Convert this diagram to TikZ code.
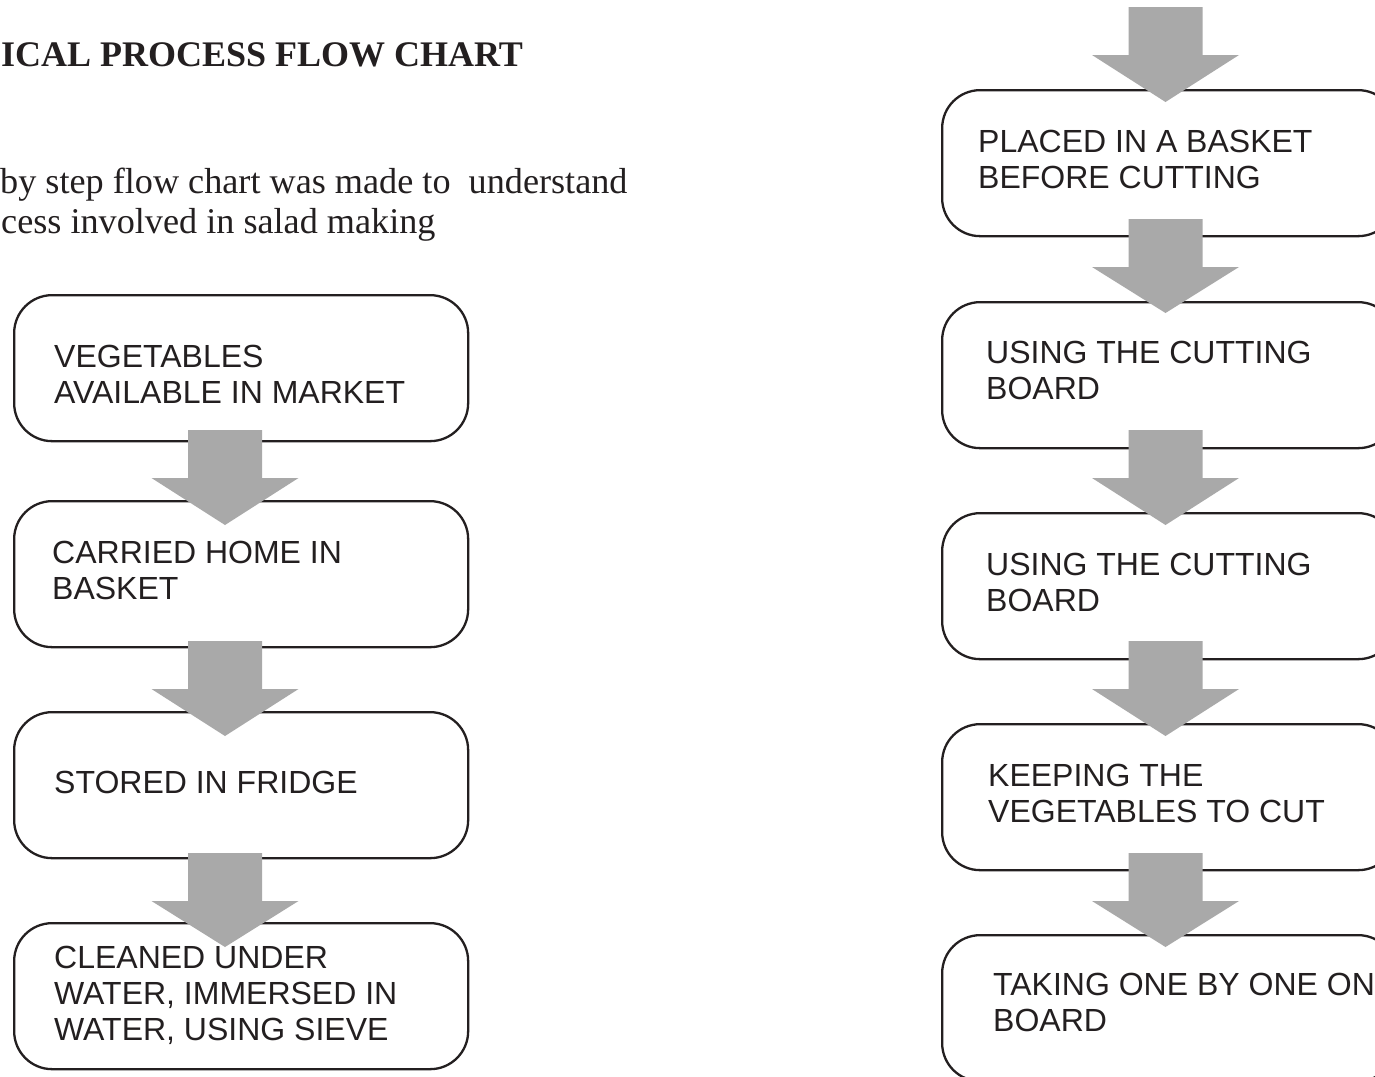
\documentclass[tikz,border=0pt]{standalone}
\usepackage{fontspec}
\setmainfont{Liberation Serif}
\setsansfont{Liberation Sans}
\usetikzlibrary{calc}
\definecolor{arrowgray}{HTML}{A9A9A9}
\definecolor{inkblack}{HTML}{231F20}
\tikzset{
  stepbox/.style={draw=inkblack, line width=2.3pt, rounded corners=38pt, minimum width=454pt, minimum height=146pt, anchor=north west, inner sep=0pt},
  boxtext/.style={anchor=north west, inner sep=0pt, align=left, text=inkblack, font=\sffamily\fontsize{32}{36}\selectfont},
  arrowfill/.style={fill=arrowgray, draw=none}
}
\newcommand\blockarrow[2]{%
  \fill[arrowfill] ($(#1)+(-37,0)$) -- ($(#1)+(37,0)$) -- ($(#1)+(37,48)$) -- ($(#1)+(73.5,48)$) -- (#2) -- ($(#1)+(-73.5,48)$) -- ($(#1)+(-37,48)$) -- cycle;}
\begin{document}
\begin{tikzpicture}[x=1pt,y=-1pt]
\useasboundingbox (0,0) rectangle (1375,1076);
\clip (0,0) rectangle (1375,1076);
\fill[white] (0,0) rectangle (1375,1076);
% title and intro
\node[anchor=base west, inner sep=0pt, text=inkblack, font=\bfseries\fontsize{36}{40}\selectfont] (title) at (1,66) {ICAL PROCESS FLOW CHART};
\node[anchor=base west, inner sep=0pt, text=inkblack, font=\fontsize{36.2}{40}\selectfont] (intro1) at (0,193) {by step flow chart was made to\ \ understand};
\node[anchor=base west, inner sep=0pt, text=inkblack, font=\fontsize{36.2}{40}\selectfont] (intro2) at (1,233) {cess involved in salad making};
% left column boxes
\node[stepbox] (L1) at (13,294) {};
\node[stepbox] (L2) at (13,500) {};
\node[stepbox] (L3) at (13,711) {};
\node[stepbox] (L4) at (13,922) {};
% right column boxes
\node[stepbox] (R1) at (941,89) {};
\node[stepbox] (R2) at (941,301) {};
\node[stepbox] (R3) at (941,512) {};
\node[stepbox] (R4) at (941,723) {};
\node[stepbox] (R5) at (941,934) {};
% texts
\node[boxtext] (tL1) at (54,345) {VEGETABLES\\AVAILABLE IN MARKET};
\node[boxtext] (tL2) at (52,541) {CARRIED HOME IN\\BASKET};
\node[boxtext] (tL3) at (54,771) {STORED IN FRIDGE};
\node[boxtext] (tL4) at (54,946) {CLEANED UNDER\\WATER, IMMERSED IN\\WATER, USING SIEVE};
\node[boxtext] (tR1) at (978,130) {PLACED IN A BASKET\\BEFORE CUTTING};
\node[boxtext] (tR2) at (986,341) {USING THE CUTTING\\BOARD};
\node[boxtext] (tR3) at (986,553) {USING THE CUTTING\\BOARD};
\node[boxtext] (tR4) at (988,764) {KEEPING THE\\VEGETABLES TO CUT};
\node[boxtext] (tR5) at (993,973) {TAKING ONE BY ONE ON\\BOARD};
% arrow anchor coordinates
\coordinate (sL1) at (225,430); \coordinate (eL1) at (225,525);
\coordinate (sL2) at (225,641); \coordinate (eL2) at (225,736);
\coordinate (sL3) at (225,853); \coordinate (eL3) at (225,947);
\coordinate (sR0) at (1165.5,7);   \coordinate (eR0) at (1165.5,102);
\coordinate (sR1) at (1165.5,219); \coordinate (eR1) at (1165.5,313);
\coordinate (sR2) at (1165.5,430); \coordinate (eR2) at (1165.5,525);
\coordinate (sR3) at (1165.5,641); \coordinate (eR3) at (1165.5,736);
\coordinate (sR4) at (1165.5,853); \coordinate (eR4) at (1165.5,947);
\blockarrow{sL1}{eL1}
\blockarrow{sL2}{eL2}
\blockarrow{sL3}{eL3}
\blockarrow{sR0}{eR0}
\blockarrow{sR1}{eR1}
\blockarrow{sR2}{eR2}
\blockarrow{sR3}{eR3}
\blockarrow{sR4}{eR4}
\end{tikzpicture}
\end{document}
